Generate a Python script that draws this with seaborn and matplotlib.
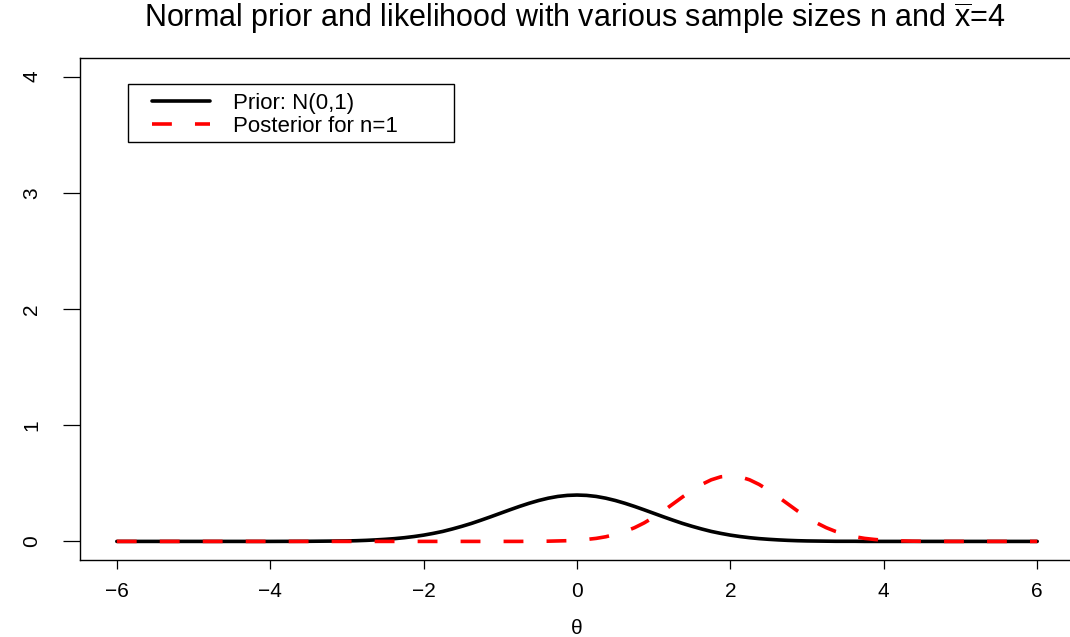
"""
Normal prior vs. posterior (n=1, xbar=4), drawn in the style of an R base plot.
"""

import pandas as pd
import matplotlib
matplotlib.use("Agg")
import matplotlib.pyplot as plt
from matplotlib.patches import Rectangle
import seaborn as sns

# theta grid: coarse in the flat tails, fine where the curves bend
theta = [-6.0, -5.5, -5.0, -4.5, -4.0, -3.5,
         -3.0, -2.875, -2.75, -2.625, -2.5, -2.375, -2.25, -2.125,
         -2.0, -1.875, -1.75, -1.625, -1.5, -1.375, -1.25, -1.125,
         -1.0, -0.875, -0.75, -0.625, -0.5, -0.375, -0.25, -0.125,
         0.0, 0.125, 0.25, 0.375, 0.5, 0.625, 0.75, 0.875,
         1.0, 1.125, 1.25, 1.375, 1.5, 1.625, 1.75, 1.875,
         2.0, 2.125, 2.25, 2.375, 2.5, 2.625, 2.75, 2.875,
         3.0, 3.125, 3.25, 3.375, 3.5, 3.625, 3.75, 3.875,
         4.0, 4.125, 4.25, 4.375, 4.5, 4.625, 4.75, 4.875,
         5.0, 5.5, 6.0]

# density values
prior_density = [0.0, 0.0, 0.0, 0.0, 0.0, 0.001,
                 0.004, 0.006, 0.009, 0.013, 0.018, 0.024, 0.032, 0.042,
                 0.054, 0.069, 0.086, 0.107, 0.130, 0.155, 0.183, 0.212,
                 0.242, 0.272, 0.301, 0.328, 0.352, 0.372, 0.387, 0.396,
                 0.399, 0.396, 0.387, 0.372, 0.352, 0.328, 0.301, 0.272,
                 0.242, 0.212, 0.183, 0.155, 0.130, 0.107, 0.086, 0.069,
                 0.054, 0.042, 0.032, 0.024, 0.018, 0.013, 0.009, 0.006,
                 0.004, 0.003, 0.002, 0.001, 0.001, 0.001, 0.0, 0.0,
                 0.0, 0.0, 0.0, 0.0, 0.0, 0.0, 0.0, 0.0,
                 0.0, 0.0, 0.0]

posterior_density = [0.0, 0.0, 0.0, 0.0, 0.0, 0.0,
                     0.0, 0.0, 0.0, 0.0, 0.0, 0.0, 0.0, 0.0,
                     0.0, 0.0, 0.0, 0.0, 0.0, 0.0, 0.0, 0.0,
                     0.0, 0.0, 0.0, 0.001, 0.001, 0.002, 0.004, 0.006,
                     0.010, 0.017, 0.026, 0.040, 0.060, 0.085, 0.118, 0.159,
                     0.208, 0.262, 0.322, 0.382, 0.439, 0.490, 0.530, 0.556,
                     0.564, 0.556, 0.530, 0.490, 0.439, 0.382, 0.322, 0.262,
                     0.208, 0.159, 0.118, 0.085, 0.060, 0.040, 0.026, 0.017,
                     0.010, 0.006, 0.004, 0.002, 0.001, 0.001, 0.0, 0.0,
                     0.0, 0.0, 0.0]

series_labels = ["Prior: N(0,1)", "Posterior for n=1"]
x_ticks = [-6, -4, -2, 0, 2, 4, 6]
y_ticks = [0, 1, 2, 3, 4]

# style
sns.set_theme(style="ticks")
plt.rcParams['font.family'] = ['Liberation Sans', 'DejaVu Sans']
plt.rcParams['mathtext.fontset'] = 'custom'
plt.rcParams['mathtext.rm'] = 'Liberation Sans'
plt.rcParams['mathtext.it'] = 'Liberation Sans'
plt.rcParams['text.color'] = 'black'
plt.rcParams['axes.labelcolor'] = 'black'
plt.rcParams['xtick.color'] = 'black'
plt.rcParams['ytick.color'] = 'black'

df = pd.DataFrame({'theta': theta, 'prior': prior_density, 'posterior': posterior_density})

fig = plt.figure(figsize=(10.7, 6.37), dpi=100)
# the right edge of the box is cut off in the reference
ax = fig.add_axes([80 / 1070, 1 - 560 / 637, 994 / 1070, 502 / 637])

LW = 2.6
DASH = (5.5, 6.4)
sns.lineplot(data=df, x='theta', y='prior', ax=ax, color='black', linewidth=LW,
             label=series_labels[0])
sns.lineplot(data=df, x='theta', y='posterior', ax=ax, color='#ff0000', linewidth=LW,
             label=series_labels[1])
ax.lines[1].set_dashes(DASH)
ax.lines[1].set_dash_capstyle('butt')

ax.set_xlim(-6.48, 6.48)
ax.set_ylim(-0.16, 4.16)

ax.set_xticks(x_ticks)
ax.set_xticklabels(['\u2212' + str(-t) if t < 0 else str(t) for t in x_ticks], fontsize=15)
ax.set_yticks(y_ticks)
ax.set_yticklabels([str(t) for t in y_ticks], fontsize=15, rotation=90, va='center')
ax.tick_params(axis='x', direction='out', length=6.5, width=0.9, pad=9)
ax.tick_params(axis='y', direction='out', length=12, width=0.9, pad=16)

for sp in ax.spines.values():
    sp.set_visible(True)
    sp.set_color('black')
    sp.set_linewidth(1.0)

ax.set_xlabel('\u03b8', fontsize=15)
ax.set_ylabel('')
ax.xaxis.set_label_coords(0.5, -68 / 502)
ax.xaxis.label.set_va('center')

fig.text(575 / 1070, 1 - 18 / 637,
         r'Normal prior and likelihood with various sample sizes n and $\overline{\mathrm{x}}$=4',
         ha='center', va='center', fontsize=22)

# legend without its own frame, box drawn separately (R legend has wide side padding)
leg = ax.legend(loc='upper left', bbox_to_anchor=(152 / 1070, 1 - 93 / 637),
                bbox_transform=fig.transFigure, fontsize=16, frameon=False,
                borderaxespad=0, borderpad=0, handlelength=2.6, handletextpad=1.04,
                labelspacing=0.1)
for h in leg.get_lines():
    h.set_linewidth(LW)
leg.get_lines()[1].set_dashes(DASH)
leg.get_lines()[1].set_dash_capstyle('butt')
fig.patches.append(Rectangle((128 / 1070, 1 - 142 / 637), 326 / 1070, 58 / 637,
                             transform=fig.transFigure, facecolor='none',
                             edgecolor='black', linewidth=1.0))

fig.savefig('out.png', dpi=100)
plt.close(fig)
